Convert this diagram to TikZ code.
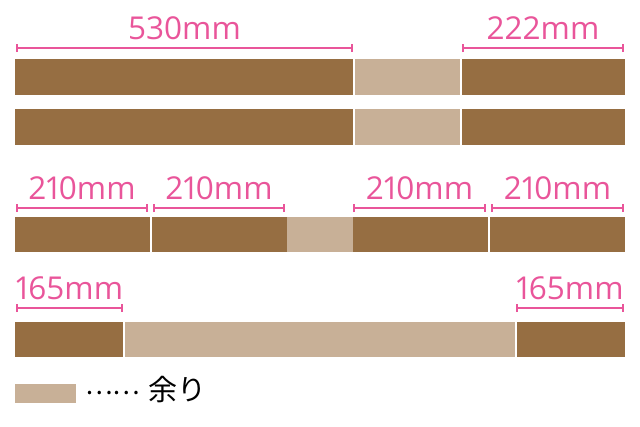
\documentclass[tikz,border=0pt]{standalone}
\usepackage{fontspec}
\setmainfont{Open Sans}[Numbers=Proportional]
\newfontfamily\cjk{Noto Sans CJK JP}
\usetikzlibrary{arrows.meta}
\definecolor{wood}{HTML}{966E42}
\definecolor{rest}{HTML}{C8B097}
\definecolor{dimpink}{HTML}{E9559A}
\tikzset{
  darkseg/.style={fill=wood},
  restseg/.style={fill=rest},
  sepline/.style={draw=white, line width=1.3pt},
  dimline/.style={draw=dimpink, line width=1.9pt, {Bar[width=8pt,line width=1.6pt]}-{Bar[width=8pt,line width=1.6pt]}},
  dimlabel/.style={text=dimpink, font=\fontsize{31.5}{31.5}\selectfont, anchor=base, inner sep=0pt, yshift=9pt},
}
\begin{document}
\begin{tikzpicture}[x=1pt,y=-1pt]
\useasboundingbox (0,0) rectangle (640,426);
% Row 1
\fill[darkseg] (15,59) rectangle (625,95);
\fill[restseg] (354,59) rectangle (461,95);
\draw[sepline] (354,59) -- (354,95) (461,59) -- (461,95);
% Row 2
\fill[darkseg] (15,109) rectangle (625,145);
\fill[restseg] (354,109) rectangle (461,145);
\draw[sepline] (354,109) -- (354,145) (461,109) -- (461,145);
% Row 3
\fill[darkseg] (15,217) rectangle (625,252);
\fill[restseg] (287,217) rectangle (353,252);
\draw[sepline] (151,217) -- (151,252) (489,217) -- (489,252);
% Row 4
\fill[darkseg] (15,322) rectangle (625,357);
\fill[restseg] (124,322) rectangle (516,357);
\draw[sepline] (124,322) -- (124,357) (516,322) -- (516,357);
% dimension lines
\coordinate (a1) at (16,48);  \coordinate (a2) at (353,48);
\coordinate (b1) at (462,48); \coordinate (b2) at (624,48);
\coordinate (c1) at (16,208); \coordinate (c2) at (148,208);
\coordinate (d1) at (153,208); \coordinate (d2) at (285,208);
\coordinate (e1) at (353,208); \coordinate (e2) at (486,208);
\coordinate (f1) at (491,208); \coordinate (f2) at (624,208);
\coordinate (g1) at (16,308); \coordinate (g2) at (123,308);
\coordinate (h1) at (516,308); \coordinate (h2) at (624,308);
\draw[dimline] (a1) -- (a2) node[midway, dimlabel] (la) {530mm};
\draw[dimline] (b1) -- (b2) node[midway, dimlabel] (lb) {222mm};
\draw[dimline] (c1) -- (c2) node[midway, dimlabel] (lc) {210mm};
\draw[dimline] (d1) -- (d2) node[midway, dimlabel] (ld) {210mm};
\draw[dimline] (e1) -- (e2) node[midway, dimlabel] (le) {210mm};
\draw[dimline] (f1) -- (f2) node[midway, dimlabel] (lf) {210mm};
\draw[dimline] (g1) -- (g2) node[midway, dimlabel] (lg) {165mm};
\draw[dimline] (h1) -- (h2) node[midway, dimlabel] (lh) {165mm};
% legend
\fill[restseg] (15,384) rectangle (76,403);
\node[anchor=west, inner sep=0pt, font=\cjk\fontsize{26}{26}\selectfont] (dots) at (85,393) {……};
\node[anchor=west, inner sep=0pt, font=\cjk\fontsize{29}{29}\selectfont] (leg) at (148,390) {余り};
\end{tikzpicture}
\end{document}
